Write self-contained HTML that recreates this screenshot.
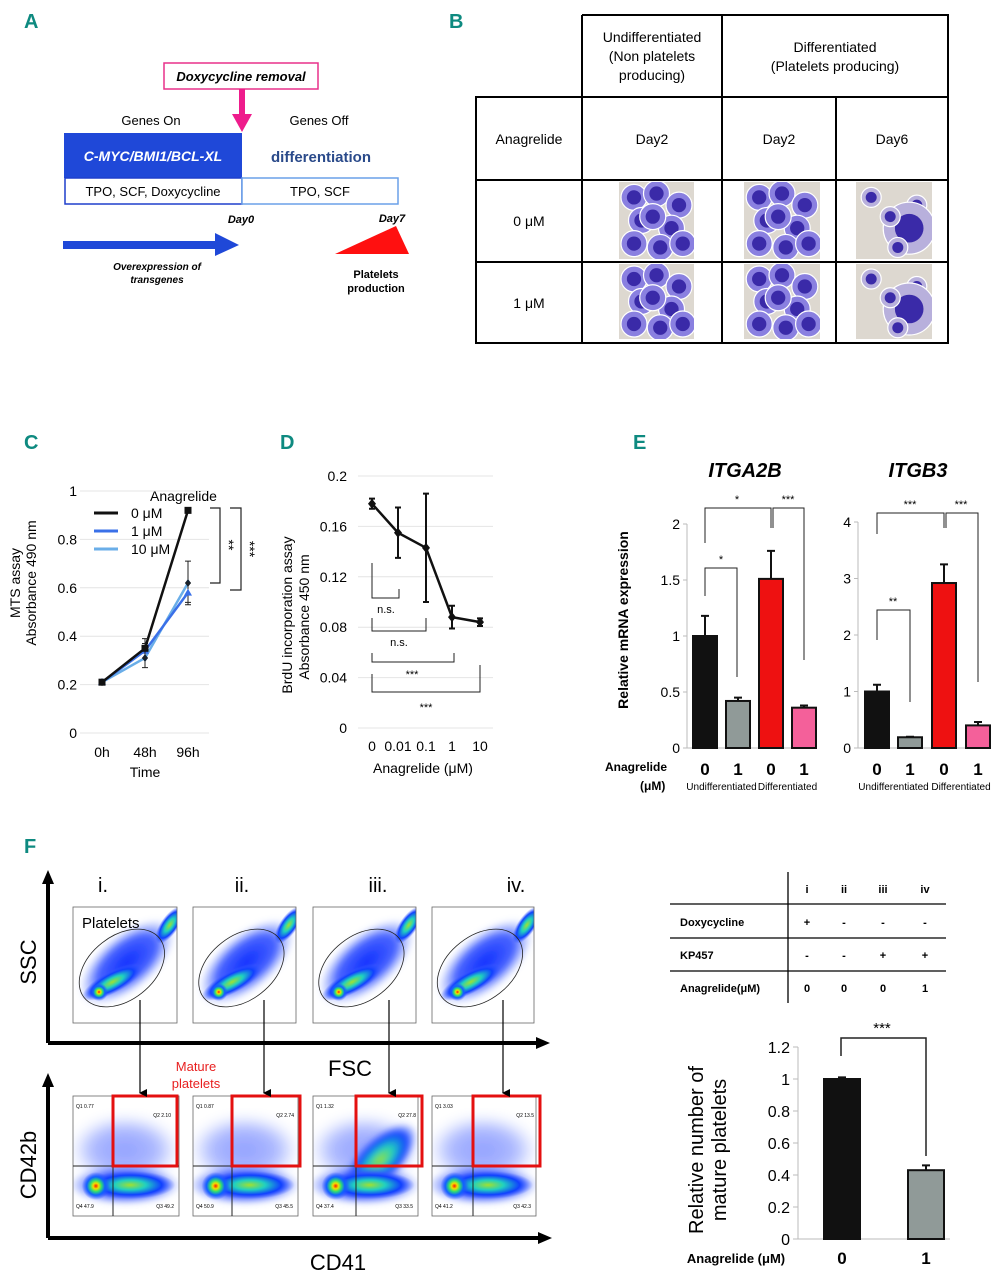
<!DOCTYPE html>
<html><head><meta charset="utf-8"><style>
html,body{margin:0;padding:0;background:#fff;}
svg{display:block;font-family:"Liberation Sans",Arial,sans-serif;}
</style></head><body>
<svg id="fig" width="1005" height="1280" viewBox="0 0 1005 1280" xmlns="http://www.w3.org/2000/svg">
<defs>
<filter id="blur3"><feGaussianBlur stdDeviation="3"/></filter>
<filter id="blur6"><feGaussianBlur stdDeviation="6"/></filter>
<radialGradient id="dens" cx="0.5" cy="0.5" r="0.5">
<stop offset="0" stop-color="#ff1a00"/><stop offset="0.2" stop-color="#f0e000"/><stop offset="0.4" stop-color="#30e070"/><stop offset="0.65" stop-color="#1060ff"/><stop offset="1" stop-color="#3050ff" stop-opacity="0"/>
</radialGradient>
<radialGradient id="dens2" cx="0.5" cy="0.5" r="0.5">
<stop offset="0" stop-color="#a0e030"/><stop offset="0.35" stop-color="#20d0c0"/><stop offset="0.7" stop-color="#1040ff"/><stop offset="1" stop-color="#4060ff" stop-opacity="0"/>
</radialGradient>
<radialGradient id="cloud" cx="0.5" cy="0.5" r="0.5">
<stop offset="0" stop-color="#1030ff" stop-opacity="1"/><stop offset="0.6" stop-color="#2848ff" stop-opacity="0.85"/><stop offset="1" stop-color="#6080ff" stop-opacity="0"/>
</radialGradient>
<marker id="ah" markerWidth="8" markerHeight="8" refX="4" refY="7" orient="auto" markerUnits="userSpaceOnUse"><path d="M0,0 L8,0 L4,8 z" fill="#000"/></marker>
</defs>

<g fill="#0e8a80" font-weight="bold" font-size="20" font-family="'Liberation Sans Narrow','Liberation Sans',sans-serif">
<text x="24" y="28">A</text>
<text x="449" y="28">B</text>
<text x="24" y="449">C</text>
<text x="280" y="449">D</text>
<text x="633" y="449">E</text>
<text x="24" y="853">F</text>
</g>

<g>
<rect x="164" y="63" width="154" height="26" fill="#fff" stroke="#e8308a" stroke-width="1.5"/>
<text x="241" y="81" text-anchor="middle" font-size="13" font-weight="bold" font-style="italic">Doxycycline removal</text>
<rect x="239" y="89" width="6" height="26" fill="#ee1c8c"/>
<path d="M232,114 L252,114 L242,132 z" fill="#ee1c8c"/>
<text x="151" y="125" text-anchor="middle" font-size="13">Genes On</text>
<text x="319" y="125" text-anchor="middle" font-size="13">Genes Off</text>
<rect x="64" y="133" width="178" height="45" fill="#1f48d8"/>
<text x="153" y="161" text-anchor="middle" font-size="14" font-weight="bold" font-style="italic" fill="#fff">C-MYC/BMI1/BCL-XL</text>
<text x="321" y="162" text-anchor="middle" font-size="15" font-weight="bold" fill="#2a4a8a">differentiation</text>
<rect x="65" y="178" width="177" height="26" fill="#fff" stroke="#1f3fcc" stroke-width="1.5"/>
<text x="153" y="196" text-anchor="middle" font-size="13">TPO, SCF, Doxycycline</text>
<rect x="242" y="178" width="156" height="26" fill="#fff" stroke="#6aa0e8" stroke-width="1.5"/>
<text x="320" y="196" text-anchor="middle" font-size="13">TPO, SCF</text>
<text x="241" y="223" text-anchor="middle" font-size="11" font-weight="bold" font-style="italic">Day0</text>
<text x="392" y="222" text-anchor="middle" font-size="11" font-weight="bold" font-style="italic">Day7</text>
<path d="M63,241 L215,241 L215,233 L239,245 L215,256 L215,249 L63,249 z" fill="#1f48d8"/>
<path d="M335,254 L409,254 L396,226 z" fill="#ff1010"/>
<text x="157" y="270" text-anchor="middle" font-size="10" font-weight="bold" font-style="italic">Overexpression of</text>
<text x="157" y="283" text-anchor="middle" font-size="10" font-weight="bold" font-style="italic">transgenes</text>
<text x="376" y="278" text-anchor="middle" font-size="11" font-weight="bold">Platelets</text>
<text x="376" y="292" text-anchor="middle" font-size="11" font-weight="bold">production</text>
</g>

<g stroke="#000" stroke-width="2" fill="none">
<path d="M582,15 L948,15 L948,343 L476,343 L476,97 L948,97 M476,180 L948,180 M476,262 L948,262 M582,15 L582,343 M722,15 L722,343 M836,97 L836,343"/>
</g>
<g font-size="14" text-anchor="middle">
<text x="652" y="42">Undifferentiated</text><text x="652" y="61">(Non platelets</text><text x="652" y="80">producing)</text>
<text x="835" y="52">Differentiated</text><text x="835" y="71">(Platelets producing)</text>
<text x="529" y="144">Anagrelide</text><text x="652" y="144">Day2</text><text x="779" y="144">Day2</text><text x="892" y="144">Day6</text>
<text x="529" y="226">0 μM</text><text x="529" y="308">1 μM</text>
</g>
<g id="micros"></g>

<g id="chartC"></g>
<g id="chartD"></g>
<g id="chartE"></g>
<g id="flow"></g>
<g>
<path d="M788,872 L788,1003 M670,904 L946,904 M670,938 L946,938 M670,971 L946,971" stroke="#000" stroke-width="1.3"/>
<g font-size="11" font-weight="bold" text-anchor="middle">
<text x="807" y="893">i</text><text x="844" y="893">ii</text><text x="883" y="893">iii</text><text x="925" y="893">iv</text>
<text x="807" y="926">+</text><text x="844" y="926">-</text><text x="883" y="926">-</text><text x="925" y="926">-</text>
<text x="807" y="959">-</text><text x="844" y="959">-</text><text x="883" y="959">+</text><text x="925" y="959">+</text>
<text x="807" y="992">0</text><text x="844" y="992">0</text><text x="883" y="992">0</text><text x="925" y="992">1</text>
</g>
<g font-size="11" font-weight="bold">
<text x="680" y="926">Doxycycline</text><text x="680" y="959">KP457</text><text x="680" y="992">Anagrelide(μM)</text>
</g>
</g>
<g id="chartF"></g>
</svg>
<script>
const NS="http://www.w3.org/2000/svg";
function mk(parent,tag,attrs,text){const e=document.createElementNS(NS,tag);for(const k in attrs)e.setAttribute(k,attrs[k]);if(text!==undefined)e.textContent=text;parent.appendChild(e);return e;}

const cTimes=["0h","48h","96h"];
const cTicks=[0,0.2,0.4,0.6,0.8,1];
const cSeries0=[0.21,0.35,0.92];
const cSeries1=[0.21,0.34,0.58];
const cSeries10=[0.21,0.31,0.62];
const cErr0=[0.01,0.04,0.0];
const cErr1=[0.01,0.03,0.04];
const cErr10=[0.01,0.04,0.09];
const cLegend=["0 μM","1 μM","10 μM"];

const dDoses=["0","0.01","0.1","1","10"];
const dTicks=[0,0.04,0.08,0.12,0.16,0.2];
const dValues=[0.178,0.155,0.143,0.088,0.084];
const dErrors=[0.004,0.02,0.043,0.009,0.003];

const eGroups=["0","1","0","1"];
const eITGA2B=[1.0,0.42,1.51,0.36];
const eITGA2Berr=[0.18,0.03,0.25,0.02];
const eITGA2Bticks=[0,0.5,1,1.5,2];
const eITGB3=[1.0,0.19,2.92,0.4];
const eITGB3err=[0.12,0.01,0.33,0.06];
const eITGB3ticks=[0,1,2,3,4];

const fGroups=["0","1"];
const fValues=[1.0,0.43];
const fErrors=[0.01,0.03];
const fTicks=[0,0.2,0.4,0.6,0.8,1,1.2];
const flowQ2=["2.10","2.74","27.8","13.5"];
const flowQ1=["0.77","0.87","1.32","3.03"];
const flowQ3=["49.2","45.5","33.5","42.3"];
const flowQ4=["47.9","50.9","37.4","41.2"];

(function(){
 const g=document.getElementById('micros');
 const boxes=[[619,182,75,77],[744,182,76,77],[856,182,76,77],[619,264,75,75],[744,264,76,75],[856,264,76,75]];
 const pats=[[0.2,0.2],[0.5,0.15],[0.8,0.3],[0.3,0.5],[0.7,0.6],[0.2,0.8],[0.55,0.85],[0.85,0.8],[0.45,0.45]];
 boxes.forEach((b,i)=>{
  const cl=mk(g,'clipPath',{id:'mc'+i});mk(cl,'rect',{x:b[0],y:b[1],width:b[2],height:b[3]});
  const r=mk(g,'rect',{x:b[0],y:b[1],width:b[2],height:b[3],fill:'#ddd8d0'});
  
  
  const cg=mk(g,'g',{'clip-path':'url(#mc'+i+')'});
  const sparse=(i===2||i===5);
  pats.forEach((p,j)=>{
   if(sparse&&j%2===1)return;
   const cx=b[0]+p[0]*b[2],cy=b[1]+p[1]*b[3];
   const rr=sparse?(j===4?26:10):13;
   mk(cg,'circle',{cx:cx,cy:cy,r:rr,fill:sparse?'#b8b0dc':'#8a80e0',stroke:'#fff','stroke-width':1.2});
   mk(cg,'circle',{cx:cx,cy:cy,r:rr*0.55,fill:'#3a2aa8'});
  });
 });
})();

(function(){
 const g=document.getElementById('chartC');
 const y=v=>733-242*v;
 const x=i=>102+43*i;
 cTicks.forEach(t=>{
  mk(g,'line',{x1:80,x2:209,y1:y(t),y2:y(t),stroke:'#e4e4e4','stroke-width':1});
  mk(g,'text',{x:77,y:y(t)+5,'text-anchor':'end','font-size':14},String(t));
 });
 cTimes.forEach((t,i)=>mk(g,'text',{x:x(i),y:757,'text-anchor':'middle','font-size':14},t));
 mk(g,'text',{x:145,y:777,'text-anchor':'middle','font-size':14},'Time');
 mk(g,'text',{transform:'translate(20,583) rotate(-90)','text-anchor':'middle','font-size':14},'MTS assay');
 mk(g,'text',{transform:'translate(36,583) rotate(-90)','text-anchor':'middle','font-size':14},'Absorbance 490 nm');
 const series=[[cSeries10,cErr10,'#6aaee8','d'],[cSeries1,cErr1,'#3a70e8','t'],[cSeries0,cErr0,'#111','s']];
 series.forEach(s=>{
  const pts=s[0].map((v,i)=>x(i)+','+y(v)).join(' ');
  const pl=mk(g,'polyline',{points:pts,fill:'none',stroke:s[2],'stroke-width':2.5});
  
  
  s[0].forEach((v,i)=>{
   const e=s[1][i];
   if(e>0){mk(g,'path',{d:`M${x(i)},${y(v+e)}L${x(i)},${y(v-e)}M${x(i)-3},${y(v+e)}h6M${x(i)-3},${y(v-e)}h6`,stroke:'#222','stroke-width':1});}
   if(s[3]==='s')mk(g,'rect',{x:x(i)-3.5,y:y(v)-3.5,width:7,height:7,fill:s[2]});
   else if(s[3]==='t')mk(g,'path',{d:`M${x(i)},${y(v)-4}l4,7h-8z`,fill:s[2]});
   else mk(g,'path',{d:`M${x(i)},${y(v)-4}l3,4l-3,4l-3,-4z`,fill:'#123'});
  });
 });
 mk(g,'text',{x:150,y:501,'font-size':14},'Anagrelide');
 const lc=['#111','#3a70e8','#6aaee8'];
 cLegend.forEach((l,i)=>{
  const ly=513+18*i;
  mk(g,'line',{x1:94,x2:118,y1:ly,y2:ly,stroke:lc[i],'stroke-width':3});
  mk(g,'text',{x:131,y:ly+5,'font-size':14},l);
 });
 mk(g,'path',{d:'M210,508H220V583H210M230,508H241V590H230',fill:'none',stroke:'#222','stroke-width':1.2});
 mk(g,'text',{transform:'translate(224,545) rotate(90)','text-anchor':'middle','font-size':14},'**');
 mk(g,'text',{transform:'translate(245,549) rotate(90)','text-anchor':'middle','font-size':14},'***');
})();

(function(){
 const g=document.getElementById('chartD');
 const y=v=>728-1260*v;
 const xs=[372,398,426,452,480];
 dTicks.forEach(t=>{
  mk(g,'line',{x1:358,x2:493,y1:y(t),y2:y(t),stroke:'#e4e4e4','stroke-width':1});
  mk(g,'text',{x:347,y:y(t)+5,'text-anchor':'end','font-size':14},String(t));
 });
 dDoses.forEach((d,i)=>mk(g,'text',{x:xs[i],y:751,'text-anchor':'middle','font-size':14},d));
 mk(g,'text',{x:423,y:773,'text-anchor':'middle','font-size':14},'Anagrelide (μM)');
 mk(g,'text',{transform:'translate(292,615) rotate(-90)','text-anchor':'middle','font-size':14},'BrdU incorporation assay');
 mk(g,'text',{transform:'translate(309,617) rotate(-90)','text-anchor':'middle','font-size':14},'Absorbance 450 nm');
 const pl=mk(g,'polyline',{points:dValues.map((v,i)=>xs[i]+','+y(v)).join(' '),fill:'none',stroke:'#111','stroke-width':2.5});
 
 
 dValues.forEach((v,i)=>{
  const e=dErrors[i],X=xs[i];
  mk(g,'path',{d:`M${X},${y(v+e)}L${X},${y(v-e)}M${X-3},${y(v+e)}h6M${X-3},${y(v-e)}h6`,stroke:'#111','stroke-width':2});
  mk(g,'path',{d:`M${X},${y(v)-5}l4,5l-4,5l-4,-5z`,fill:'#111'});
 });
 mk(g,'path',{d:'M372,563V598H399V589M372,618V631H426V618M372,653V662H454V653M372,674V692H480V665',fill:'none',stroke:'#222','stroke-width':1});
 mk(g,'text',{x:386,y:613,'text-anchor':'middle','font-size':11},'n.s.');
 mk(g,'text',{x:399,y:646,'text-anchor':'middle','font-size':11},'n.s.');
 mk(g,'text',{x:412,y:678,'text-anchor':'middle','font-size':11},'***');
 mk(g,'text',{x:426,y:711,'text-anchor':'middle','font-size':11},'***');
})();

(function(){
 const g=document.getElementById('chartE');
 const cols=['#111','#909a98','#ee1111','#f4609a'];
 function chart(ax,ymax,h0,scale,ticks,vals,errs,xs,title,tx){
  const y=v=>h0-scale*v;
  mk(g,'text',{x:tx,y:477,'text-anchor':'middle','font-size':20,'font-weight':'bold','font-style':'italic'},title);
  mk(g,'line',{x1:ax,x2:ax,y1:y(ticks[ticks.length-1]),y2:h0,stroke:'#bbb'});
  mk(g,'line',{x1:ax,x2:ax+130,y1:h0,y2:h0,stroke:'#bbb'});
  ticks.forEach(t=>{mk(g,'line',{x1:ax-4,x2:ax,y1:y(t),y2:y(t),stroke:'#bbb'});
   mk(g,'text',{x:ax-7,y:y(t)+5,'text-anchor':'end','font-size':14},String(t));});
  vals.forEach((v,i)=>{
   const e=errs[i];
   mk(g,'path',{d:`M${xs[i]},${y(v)}V${y(v+e)}M${xs[i]-4},${y(v+e)}h8`,stroke:'#111','stroke-width':2});
   const r=mk(g,'rect',{x:xs[i]-12,y:y(v),width:24,height:scale*v,fill:cols[i],stroke:'#111','stroke-width':2});
   
   
   mk(g,'text',{x:xs[i],y:775,'text-anchor':'middle','font-size':17,'font-weight':'bold'},eGroups[i]);
  });
  mk(g,'text',{x:(xs[0]+xs[1])/2,y:790,'text-anchor':'middle','font-size':10},'Undifferentiated');
  mk(g,'text',{x:(xs[2]+xs[3])/2,y:790,'text-anchor':'middle','font-size':10},'Differentiated');
 }
 chart(687,2,748,112,eITGA2Bticks,eITGA2B,eITGA2Berr,[705,738,771,804],'ITGA2B',745);
 chart(858,4,748,56.5,eITGB3ticks,eITGB3,eITGB3err,[877,910,944,978],'ITGB3',918);
 mk(g,'path',{d:'M705,543V508H771V528M773,528V508H804V660M705,596V568H737V677M877,534V513H944V528M946,528V513H978V682M877,640V610H910V702',fill:'none',stroke:'#222','stroke-width':1});
 [['*',737,503],['***',788,503],['*',721,563],['***',910,508],['***',961,508],['**',893,605]].forEach(s=>mk(g,'text',{x:s[1],y:s[2],'text-anchor':'middle','font-size':11},s[0]));
 mk(g,'text',{x:605,y:771,'font-size':12,'font-weight':'bold'},'Anagrelide');
 mk(g,'text',{x:640,y:790,'font-size':12,'font-weight':'bold'},'(μM)');
 mk(g,'text',{transform:'translate(628,620) rotate(-90)','text-anchor':'middle','font-size':14,'font-weight':'bold'},'Relative mRNA expression');
})();

(function(){
 const g=document.getElementById('flow');
 mk(g,'path',{d:'M48,1043H538M48,1043V882M48,1238H540M48,1238V1085',stroke:'#000','stroke-width':4,fill:'none'});
 mk(g,'path',{d:'M42,884L48,870L54,884zM536,1037L550,1043L536,1049zM42,1087L48,1073L54,1087zM538,1232L552,1238L538,1244z',fill:'#000'});
 mk(g,'text',{transform:'translate(36,962) rotate(-90)','text-anchor':'middle','font-size':22},'SSC');
 mk(g,'text',{x:350,y:1076,'text-anchor':'middle','font-size':22},'FSC');
 mk(g,'text',{transform:'translate(36,1165) rotate(-90)','text-anchor':'middle','font-size':22},'CD42b');
 mk(g,'text',{x:338,y:1270,'text-anchor':'middle','font-size':22},'CD41');
 mk(g,'text',{x:196,y:1071,'text-anchor':'middle','font-size':13,fill:'#e82020'},'Mature');
 mk(g,'text',{x:196,y:1088,'text-anchor':'middle','font-size':13,fill:'#e82020'},'platelets');
 const tops=[[73,177],[193,296],[313,416],[432,534]];
 const nums=['i.','ii.','iii.','iv.'];
 const nx=[103,242,378,516];
 const arrowX=[140,264,389,503];
 const redX=[[113,177],[232,300],[356,422],[473,540]];
 tops.forEach((t,i)=>{
  const x0=t[0],x1=t[1],w=x1-x0;
  mk(g,'text',{x:nx[i],y:892,'text-anchor':'middle','font-size':20},nums[i]);
  const cp=mk(g,'clipPath',{id:'fc'+i});mk(cp,'rect',{x:x0,y:907,width:w,height:116});
  const fg=mk(g,'g',{'clip-path':'url(#fc'+i+')'});
  mk(fg,'rect',{x:x0,y:907,width:w,height:116,fill:'#fff'});
  const cx=x0+w*0.52;
  mk(fg,'ellipse',{cx:cx,cy:962,rx:58,ry:28,fill:'url(#cloud)',transform:`rotate(-40 ${cx} 962)`,filter:'url(#blur3)'});
  mk(fg,'ellipse',{cx:x0+w*0.38,cy:982,rx:34,ry:11,fill:'url(#dens2)',transform:`rotate(-28 ${x0+w*0.38} 982)`});
  mk(fg,'ellipse',{cx:x0+w*0.93,cy:925,rx:9,ry:22,fill:'url(#dens2)',transform:`rotate(35 ${x0+w*0.93} 925)`});
  mk(fg,'circle',{cx:x0+w*0.25,cy:992,r:9,fill:'url(#dens)'});
  mk(g,'rect',{x:x0,y:907,width:w,height:116,fill:'none',stroke:'#666','stroke-width':0.8});
  mk(g,'ellipse',{cx:x0+w*0.47,cy:968,rx:48,ry:32,fill:'none',stroke:'#222','stroke-width':0.8,transform:`rotate(-38 ${x0+w*0.47} 968)`});
  const by=1096,bh=120;
  const bx0=x0;
  const cp2=mk(g,'clipPath',{id:'fb'+i});mk(cp2,'rect',{x:bx0,y:by,width:w+2,height:bh});
  const bg=mk(g,'g',{'clip-path':'url(#fb'+i+')'});
  mk(bg,'rect',{x:bx0,y:by,width:w+2,height:bh,fill:'#fff'});
  mk(bg,'ellipse',{cx:bx0+w*0.5,cy:1150,rx:55,ry:35,fill:'url(#cloud)',opacity:0.45,filter:'url(#blur6)'});
  if(i===2){mk(bg,'ellipse',{cx:bx0+w*0.65,cy:1160,rx:48,ry:22,fill:'url(#dens2)',transform:`rotate(-45 ${bx0+w*0.65} 1160)`,filter:'url(#blur3)'});}
  mk(bg,'ellipse',{cx:bx0+w*0.5,cy:1185,rx:56,ry:20,fill:'url(#cloud)',filter:'url(#blur3)'});
  mk(bg,'ellipse',{cx:bx0+w*0.55,cy:1185,rx:45,ry:14,fill:'url(#dens2)'});
  mk(bg,'circle',{cx:bx0+w*0.22,cy:1186,r:14,fill:'url(#dens)'});
  mk(g,'rect',{x:bx0,y:by,width:w+2,height:bh,fill:'none',stroke:'#666','stroke-width':0.8});
  mk(g,'path',{d:`M${bx0},1166H${bx0+w+2}M${redX[i][0]},${by}V${by+bh}`,stroke:'#222','stroke-width':1});
  const rr=mk(g,'rect',{x:redX[i][0],y:by,width:redX[i][1]-redX[i][0],height:70,fill:'none',stroke:'#e41010','stroke-width':3});
  
  
  mk(g,'text',{x:redX[i][1]-6,y:by+21,'text-anchor':'end','font-size':5},'Q2 '+flowQ2[i]);
  mk(g,'text',{x:bx0+3,y:by+12,'font-size':5},'Q1 '+flowQ1[i]);
  mk(g,'text',{x:bx0+w-3,y:by+bh-8,'text-anchor':'end','font-size':5},'Q3 '+flowQ3[i]);
  mk(g,'text',{x:bx0+3,y:by+bh-8,'font-size':5},'Q4 '+flowQ4[i]);
  mk(g,'line',{x1:arrowX[i],x2:arrowX[i],y1:1000,y2:1093,stroke:'#000','stroke-width':1.2,'marker-end':'url(#ah)'});
 });
 mk(g,'text',{x:82,y:928,'font-size':15},'Platelets');
})();

(function(){
 const g=document.getElementById('chartF');
 const y=v=>1239-160*v;
 const xs=[842,926];
 const fc=['#111','#909a98'];
 mk(g,'line',{x1:798,x2:798,y1:y(1.2),y2:y(0),stroke:'#bbb'});
 mk(g,'line',{x1:798,x2:950,y1:y(0),y2:y(0),stroke:'#bbb'});
 fTicks.forEach(t=>{mk(g,'line',{x1:793,x2:798,y1:y(t),y2:y(t),stroke:'#bbb'});
  mk(g,'text',{x:790,y:y(t)+6,'text-anchor':'end','font-size':16},String(t));});
 fValues.forEach((v,i)=>{
  mk(g,'path',{d:`M${xs[i]},${y(v)}V${y(v+fErrors[i])}M${xs[i]-4},${y(v+fErrors[i])}h8`,stroke:'#111','stroke-width':2});
  const r=mk(g,'rect',{x:xs[i]-18,y:y(v),width:36,height:160*v,fill:fc[i],stroke:'#111','stroke-width':2});
  
  
  mk(g,'text',{x:xs[i],y:1264,'text-anchor':'middle','font-size':17,'font-weight':'bold'},fGroups[i]);
 });
 mk(g,'text',{x:736,y:1263,'text-anchor':'middle','font-size':13,'font-weight':'bold'},'Anagrelide (μM)');
 mk(g,'path',{d:'M841,1056V1038H926V1156',fill:'none',stroke:'#222','stroke-width':1.5});
 mk(g,'text',{x:882,y:1033,'text-anchor':'middle','font-size':15},'***');
 mk(g,'text',{transform:'translate(703,1150) rotate(-90)','text-anchor':'middle','font-size':20},'Relative number of');
 mk(g,'text',{transform:'translate(726,1150) rotate(-90)','text-anchor':'middle','font-size':20},'mature platelets');
})();
</script>
</body></html>
